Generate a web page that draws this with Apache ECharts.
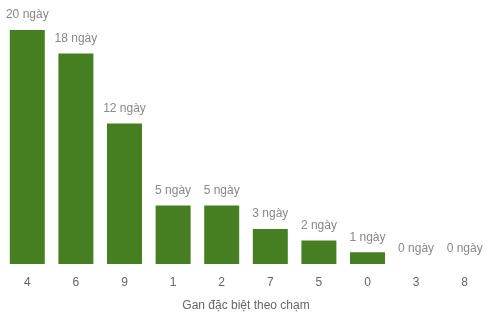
<!DOCTYPE html>
<html><head><meta charset="utf-8">
<script src="https://cdn.jsdelivr.net/npm/echarts@6/dist/echarts.min.js"></script>
<style>html,body{margin:0;padding:0;background:#fff}#c{width:492px;height:317px}</style>
</head><body><div id="c"></div>
<script>
const categories = ['4','6','9','1','2','7','5','0','3','8'];
const values = [20,18,12,5,5,3,2,1,0,0];
const axisName = 'Gan đặc biệt theo chạm';
const unit = ' ngày';

const chart = echarts.init(document.getElementById('c'));
chart.setOption({
  animation: false,
  grid: {left: 3, right: 3, top: 30, bottom: 53},
  xAxis: {
    type: 'category',
    data: categories,
    axisLine: {show: false},
    axisTick: {show: false},
    axisLabel: {color: '#666', fontSize: 12, margin: 13, fontFamily: 'Liberation Sans, Arial'},
    name: axisName,
    nameLocation: 'middle',
    nameGap: 36,
    nameTextStyle: {color: '#666', fontSize: 12, fontFamily: 'Liberation Sans, Arial'}
  },
  yAxis: {type: 'value', min: 0, max: 20, show: false},
  series: [{
    type: 'bar',
    data: values,
    barWidth: '72%',
    itemStyle: {color: '#467f21'},
    label: {
      show: true, position: 'top', distance: 9,
      color: '#888', fontSize: 12, fontFamily: 'Liberation Sans, Arial',
      formatter: p => p.value + unit
    }
  }]
});
</script></body></html>
